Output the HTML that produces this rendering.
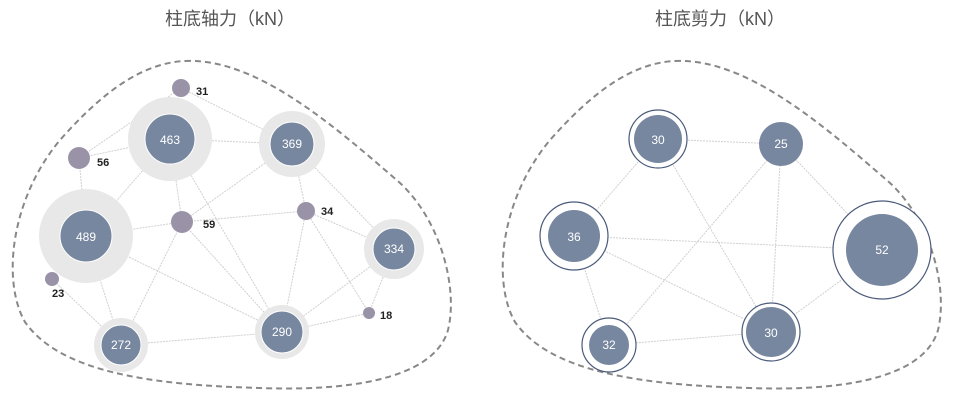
<!DOCTYPE html>
<html><head><meta charset="utf-8"><style>
html,body{margin:0;padding:0;background:#fff;}
svg{display:block;}
</style></head><body>
<svg width="960" height="401" viewBox="0 0 960 401" xmlns="http://www.w3.org/2000/svg" font-family="Liberation Sans, Noto Sans CJK SC, sans-serif">
<text x="230" y="25" font-size="18" fill="#555" text-anchor="middle" font-family="Liberation Sans, Noto Sans CJK SC, sans-serif">柱底轴力（kN）</text>
<text x="720" y="25" font-size="18" fill="#555" text-anchor="middle" font-family="Liberation Sans, Noto Sans CJK SC, sans-serif">柱底剪力（kN）</text>

<g id="blob" fill="none" stroke="#888" stroke-width="2" stroke-dasharray="6,4">
<path d="M185,61 C255,58 330,122 400,183 C442,222 458,290 448,330 C436,372 370,392 260,388 C150,385 60,372 25,322 C2,282 10,200 60,140 C100,95 140,63 185,61 Z"/>
<path transform="translate(490,0)" d="M185,61 C255,58 330,122 400,183 C442,222 458,290 448,330 C436,372 370,392 260,388 C150,385 60,372 25,322 C2,282 10,200 60,140 C100,95 140,63 185,61 Z"/>
</g>

<g stroke="#d0d0d0" stroke-width="1" stroke-dasharray="2,1">
<line x1="79" y1="158" x2="181" y2="88"/>
<line x1="181" y1="88" x2="292" y2="144"/>
<line x1="79" y1="158" x2="170" y2="139"/>
<line x1="79" y1="158" x2="86" y2="236"/>
<line x1="170" y1="139" x2="86" y2="236"/>
<line x1="170" y1="139" x2="292" y2="144"/>
<line x1="170" y1="139" x2="182" y2="222"/>
<line x1="170" y1="139" x2="282" y2="332"/>
<line x1="292" y1="144" x2="182" y2="222"/>
<line x1="292" y1="144" x2="306" y2="211"/>
<line x1="292" y1="144" x2="394" y2="249"/>
<line x1="86" y1="236" x2="182" y2="222"/>
<line x1="86" y1="236" x2="282" y2="332"/>
<line x1="86" y1="236" x2="121" y2="345"/>
<line x1="52" y1="279" x2="121" y2="345"/>
<line x1="182" y1="222" x2="121" y2="345"/>
<line x1="182" y1="222" x2="282" y2="332"/>
<line x1="182" y1="222" x2="306" y2="211"/>
<line x1="306" y1="211" x2="282" y2="332"/>
<line x1="306" y1="211" x2="394" y2="249"/>
<line x1="306" y1="211" x2="369" y2="313"/>
<line x1="394" y1="249" x2="282" y2="332"/>
<line x1="394" y1="249" x2="369" y2="313"/>
<line x1="282" y1="332" x2="369" y2="313"/>
<line x1="121" y1="345" x2="282" y2="332"/>

<line x1="658" y1="139" x2="781" y2="144"/>
<line x1="658" y1="139" x2="574" y2="236"/>
<line x1="658" y1="139" x2="771" y2="332"/>
<line x1="781" y1="144" x2="882" y2="250"/>
<line x1="781" y1="144" x2="771" y2="332"/>
<line x1="781" y1="144" x2="609" y2="345"/>
<line x1="574" y1="236" x2="882" y2="250"/>
<line x1="574" y1="236" x2="771" y2="332"/>
<line x1="574" y1="236" x2="609" y2="345"/>
<line x1="882" y1="250" x2="771" y2="332"/>
<line x1="609" y1="345" x2="771" y2="332"/>
</g>

<g fill="#e8e8e8">
<circle cx="170" cy="139" r="42"/>
<circle cx="292" cy="144" r="33"/>
<circle cx="86" cy="236" r="47"/>
<circle cx="394" cy="249" r="30"/>
<circle cx="282" cy="332" r="27"/>
<circle cx="121" cy="345" r="27"/>
</g>
<g fill="#7787a0" stroke="#fff" stroke-width="1">
<circle cx="170" cy="139" r="25"/>
<circle cx="292" cy="144" r="22"/>
<circle cx="86" cy="236" r="26"/>
<circle cx="394" cy="249" r="21"/>
<circle cx="282" cy="332" r="21"/>
<circle cx="121" cy="345" r="20"/>
</g>
<g fill="#9a93a8">
<circle cx="181" cy="88" r="9"/>
<circle cx="79" cy="158" r="11"/>
<circle cx="182" cy="222" r="11"/>
<circle cx="306" cy="211" r="9"/>
<circle cx="52" cy="279" r="7"/>
<circle cx="369" cy="313" r="6"/>
</g>
<g fill="#fff" font-size="12" text-anchor="middle">
<text x="170" y="144">463</text>
<text x="292" y="148">369</text>
<text x="86" y="241">489</text>
<text x="394" y="253">334</text>
<text x="282" y="336">290</text>
<text x="121" y="349">272</text>
</g>
<g fill="#222" font-size="11" font-weight="bold">
<text x="196" y="95">31</text>
<text x="97" y="166">56</text>
<text x="203" y="228">59</text>
<text x="321" y="215">34</text>
<text x="52" y="297">23</text>
<text x="380" y="319">18</text>
</g>

<g fill="#fff" stroke="#4a5a7a" stroke-width="1.2">
<circle cx="658" cy="139" r="29"/>
<circle cx="574" cy="236" r="34"/>
<circle cx="882" cy="250" r="49"/>
<circle cx="771" cy="332" r="29"/>
<circle cx="609" cy="345" r="27"/>
</g>
<g fill="#7787a0">
<circle cx="658" cy="139" r="24"/>
<circle cx="781" cy="144" r="22"/>
<circle cx="574" cy="236" r="26"/>
<circle cx="882" cy="250" r="36"/>
<circle cx="771" cy="332" r="25"/>
<circle cx="609" cy="345" r="20"/>
</g>
<g fill="#fff" font-size="12" text-anchor="middle">
<text x="658" y="144">30</text>
<text x="781" y="148">25</text>
<text x="574" y="241">36</text>
<text x="882" y="254">52</text>
<text x="771" y="337">30</text>
<text x="609" y="349">32</text>
</g>
</svg>
</body></html>
